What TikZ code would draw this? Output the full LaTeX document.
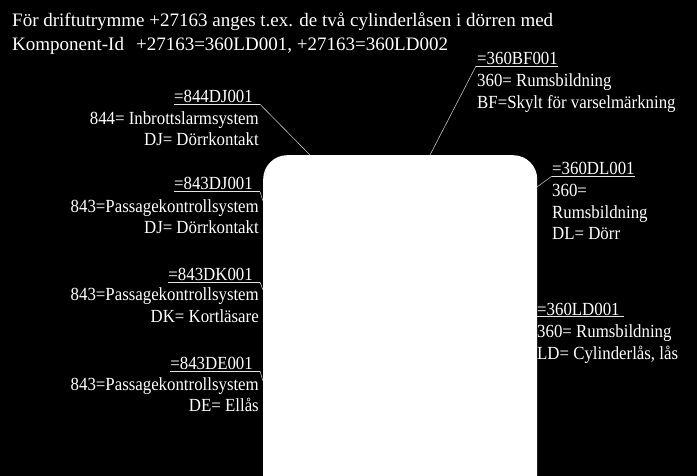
\documentclass[tikz,border=0pt]{standalone}
\usepackage{fontspec}
\setmainfont{Liberation Serif}
\newfontfamily\labfont{Liberation Serif}[FakeStretch=0.91]
\begin{document}
\begin{tikzpicture}[x=1pt,y=-1pt,
  lab/.style={inner sep=0pt, text=white, font=\labfont\fontsize{18.5}{21}\selectfont},
  le/.style={lab, anchor=base east},
  ri/.style={lab, anchor=base west},
  ttl/.style={inner sep=0pt, text=white, anchor=base west, font=\fontsize{19}{23}\selectfont},
  leader/.style={draw=white!75!black, line width=0.6pt},
  uline/.style={draw=white!90!black, line width=0.9pt},
  doorbox/.style={fill=white, rounded corners=24pt, minimum width=274pt, minimum height=360pt, inner sep=0pt, anchor=north west}]
\fill[black] (0,0) rectangle (697,476);
\useasboundingbox (0,0) rectangle (697,476);
\begin{scope}
\clip (0,0) rectangle (697,476);
\node[doorbox] (door) at (263,155) {};
\end{scope}

% title
\node[ttl] (t1) at (12,27) {För driftutrymme +27163 anges t.ex. de två cylinderlåsen i dörren med};
\node[ttl] (t2) at (12,51) {Komponent-Id\hspace{12pt}+27163=360LD001, +27163=360LD002};

% door attachment points
\coordinate (d1) at (310,155);
\coordinate (d2) at (263,201);
\coordinate (d3) at (263,290);
\coordinate (d4) at (263,381);
\coordinate (d5) at (430,155);
\coordinate (d6) at (537,187);

% left block 1
\node[le] (a1) at (253,102.7) {=844DJ001};
\node[le] (a1b) at (259,125) {844= Inbrottslarmsystem};
\node[le] (a1c) at (259,146) {DJ= Dörrkontakt};
\coordinate (u1) at (260,104.3);
\draw[uline] ([yshift=-1.6pt]a1.base west) -- (u1);
\draw[leader] (u1) -- (d1);

% left block 2
\node[le] (a2) at (253,190) {=843DJ001};
\node[le] (a2b) at (259,212.3) {843=Passagekontrollsystem};
\node[le] (a2c) at (259,233.3) {DJ= Dörrkontakt};
\coordinate (u2) at (260,191.6);
\draw[uline] ([yshift=-1.6pt]a2.base west) -- (u2);
\draw[leader] (u2) -- (d2);

% left block 3
\node[le] (a3) at (253,280.5) {=843DK001};
\node[le] (a3b) at (259,301) {843=Passagekontrollsystem};
\node[le] (a3c) at (259,322.5) {DK= Kortläsare};
\coordinate (u3) at (260,282.1);
\draw[uline] ([yshift=-1.6pt]a3.base west) -- (u3);
\draw[leader] (u3) -- (d3);

% left block 4
\node[le] (a4) at (253,369.5) {=843DE001};
\node[le] (a4b) at (259,390.5) {843=Passagekontrollsystem};
\node[le] (a4c) at (259,411.5) {DE= Ellås};
\coordinate (u4) at (260,371.1);
\draw[uline] ([yshift=-1.6pt]a4.base west) -- (u4);
\draw[leader] (u4) -- (d4);

% right block BF
\node[ri] (b1) at (477,64.5) {=360BF001};
\node[ri] (b1b) at (477,87) {360= Rumsbildning};
\node[ri] (b1c) at (477,108.5) {BF=Skylt för varselmärkning};
\coordinate (v1) at (476,66.1);
\draw[uline] (v1) -- ([yshift=-1.6pt]b1.base east);
\draw[leader] (d5) -- (v1);

% right block DL
\node[ri] (b2) at (552,174.5) {=360DL001};
\node[ri] (b2b) at (552,197) {360=};
\node[ri] (b2c) at (552,218.5) {Rumsbildning};
\node[ri] (b2d) at (552,240) {DL= Dörr};
\coordinate (v2) at (552,176.1);
\draw[uline] (v2) -- ([yshift=-1.6pt]b2.base east);
\draw[leader] (d6) -- (v2);

% right block LD
\node[ri] (b3) at (537,315) {=360LD001};
\node[ri] (b3b) at (537,337) {360= Rumsbildning};
\node[ri] (b3c) at (537,359) {LD= Cylinderlås, lås};
\draw[uline] ([yshift=-1.6pt]b3.base west) -- ([yshift=-1.6pt,xshift=4pt]b3.base east);
\end{tikzpicture}
\end{document}
